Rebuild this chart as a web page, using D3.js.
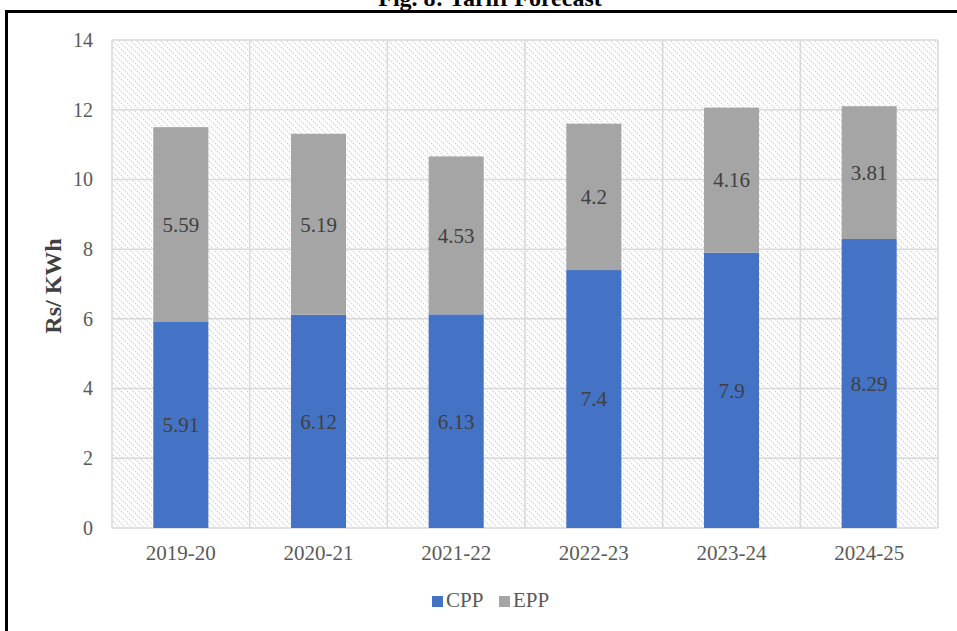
<!DOCTYPE html>
<html>
<head>
<meta charset="utf-8">
<script src="https://cdn.jsdelivr.net/npm/d3@7"></script>
<style>
  html, body { margin: 0; padding: 0; background: #fff; }
  svg { display: block; }
</style>
</head>
<body>
<svg id="chart" width="957" height="631"></svg>
<script>
const categories = ["2019-20", "2020-21", "2021-22", "2022-23", "2023-24", "2024-25"];
const cppValues = [5.91, 6.12, 6.13, 7.4, 7.9, 8.29];
const eppValues = [5.59, 5.19, 4.53, 4.2, 4.16, 3.81];
const cppLabels = ["5.91", "6.12", "6.13", "7.4", "7.9", "8.29"];
const eppLabels = ["5.59", "5.19", "4.53", "4.2", "4.16", "3.81"];
const yTicks = [0, 2, 4, 6, 8, 10, 12, 14];
const seriesNames = ["CPP", "EPP"];
const titleText = "Fig. 8: Tariff Forecast";
const yTitle = "Rs/ KWh";

(function () {
const W = 957, H = 631;
const svg = d3.select("#chart");
const serif = "'Liberation Serif', 'Times New Roman', serif";
const colors = {CPP: "#4472C4", EPP: "#A5A5A5"};

// Pattern
const defs = svg.append("defs");
const pat = defs.append("pattern")
  .attr("id", "hatch").attr("patternUnits", "userSpaceOnUse")
  .attr("width", 6).attr("height", 6);
pat.append("rect").attr("width", 6).attr("height", 6).attr("fill", "#fff");
pat.append("path").attr("d", "M-1,-1 L7,7 M-1,5 L1,7 M5,-1 L7,1")
  .attr("stroke", "#d3d3d3").attr("stroke-width", 1.3)
  .attr("stroke-dasharray", "1.4,1.4");

// Title (cut off at top)
svg.append("text").attr("x", 490).attr("y", 6)
  .attr("text-anchor", "middle").attr("font-family", serif)
  .attr("font-weight", "bold").attr("font-size", 24).attr("fill", "#000")
  .text(titleText);

// Frame
svg.append("path").attr("d", `M6.5,${H + 5} L6.5,11.5 L${W + 5},11.5`)
  .attr("fill", "none").attr("stroke", "#000").attr("stroke-width", 3);

const pLeft = 112, pRight = 938, pTop = 40, pBottom = 528;

const x = d3.scaleBand().domain(categories).range([pLeft, pRight])
  .paddingInner(0.6).paddingOuter(0.3);
const y = d3.scaleLinear().domain([0, 14]).range([pBottom, pTop]);

// Plot area background
svg.append("rect").attr("x", pLeft).attr("y", pTop)
  .attr("width", pRight - pLeft).attr("height", pBottom - pTop)
  .attr("fill", "url(#hatch)");

// Horizontal gridlines
svg.append("g").selectAll("line").data(yTicks).join("line")
  .attr("x1", pLeft).attr("x2", pRight)
  .attr("y1", d => y(d)).attr("y2", d => y(d))
  .attr("stroke", "#d9d9d9").attr("stroke-width", 1.5);

// Vertical gridlines at category boundaries
const step = x.step();
const bounds = d3.range(categories.length + 1).map(i => pLeft + i * step);
svg.append("g").selectAll("line").data(bounds).join("line")
  .attr("y1", pTop).attr("y2", pBottom)
  .attr("x1", d => d).attr("x2", d => d)
  .attr("stroke", "#d9d9d9").attr("stroke-width", 1.5);

// Stack
const rows = categories.map((c, i) => ({cat: c, CPP: cppValues[i], EPP: eppValues[i]}));
const stack = d3.stack().keys(seriesNames)(rows);
const labelMap = {CPP: cppLabels, EPP: eppLabels};

const gBars = svg.append("g");
stack.forEach(layer => {
  gBars.append("g").selectAll("rect").data(layer).join("rect")
    .attr("x", d => x(d.data.cat))
    .attr("width", x.bandwidth())
    .attr("y", d => y(d[1]))
    .attr("height", d => y(d[0]) - y(d[1]))
    .attr("fill", colors[layer.key]);
});
stack.forEach(layer => {
  svg.append("g").selectAll("text").data(layer).join("text")
    .attr("x", d => x(d.data.cat) + x.bandwidth() / 2)
    .attr("y", d => y((d[0] + d[1]) / 2))
    .attr("dy", "0.35em")
    .attr("text-anchor", "middle")
    .attr("font-family", serif).attr("font-size", 21).attr("fill", "#404040")
    .text((d, i) => labelMap[layer.key][i]);
});

// Y axis labels
const yAxis = d3.axisLeft(y).tickValues(yTicks).tickSize(0).tickPadding(0).tickFormat(d3.format("d"));
const gy = svg.append("g").attr("transform", `translate(93,0)`).call(yAxis);
gy.select(".domain").remove();
gy.selectAll("text").attr("font-family", serif).attr("font-size", 20).attr("fill", "#595959");

// X axis labels
const xAxis = d3.axisBottom(x).tickSize(0).tickPadding(0);
const gx = svg.append("g").attr("transform", `translate(0,${pBottom + 17})`).call(xAxis);
gx.select(".domain").remove();
gx.selectAll("text").attr("font-family", serif).attr("font-size", 21).attr("fill", "#595959");

// Y title
svg.append("text")
  .attr("transform", `translate(61,${(pTop + pBottom) / 2 + 2}) rotate(-90)`)
  .attr("text-anchor", "middle").attr("font-family", serif)
  .attr("font-weight", "bold").attr("font-size", 24).attr("fill", "#404040")
  .text(yTitle);

// Legend
const legendItems = [{name: "CPP", x: 432}, {name: "EPP", x: 499}];
const lg = svg.append("g");
legendItems.forEach(it => {
  lg.append("rect").attr("x", it.x).attr("y", 596).attr("width", 11).attr("height", 11)
    .attr("fill", colors[it.name]);
  lg.append("text").attr("x", it.x + 14).attr("y", 607)
    .attr("font-family", serif).attr("font-size", 21).attr("fill", "#595959")
    .text(it.name);
});
})();
</script>
</body>
</html>
